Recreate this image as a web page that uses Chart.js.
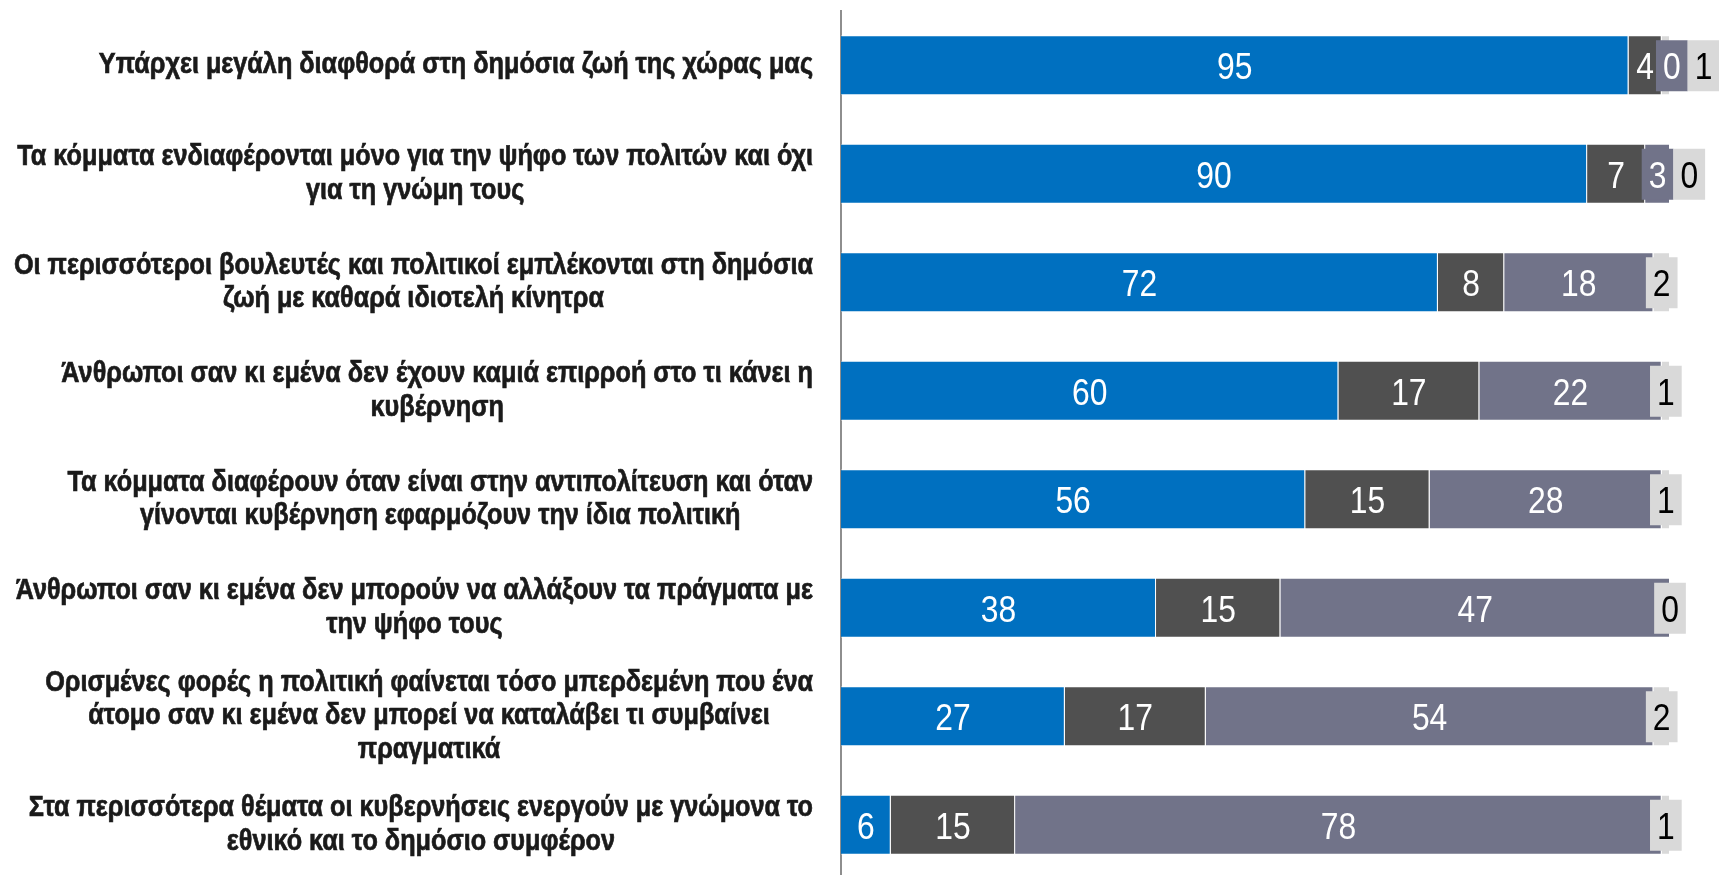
<!DOCTYPE html>
<html>
<head>
<meta charset="utf-8">
<script src="https://cdn.jsdelivr.net/npm/chart.js@4.4.1/dist/chart.umd.min.js"></script>
<style>
  html, body { margin: 0; padding: 0; background: #fff; overflow: hidden; }
  #wrap { position: relative; width: 1719px; height: 879px; }
</style>
</head>
<body>
<div id="wrap"><canvas id="chart"></canvas></div>
<script>
const categories = [
  'Υπάρχει μεγάλη διαφθορά στη δημόσια ζωή της χώρας μας',
  ['Τα κόμματα ενδιαφέρονται μόνο για την ψήφο των πολιτών και όχι', 'για τη γνώμη τους'],
  ['Οι περισσότεροι βουλευτές και πολιτικοί εμπλέκονται στη δημόσια', 'ζωή με καθαρά ιδιοτελή κίνητρα'],
  ['Άνθρωποι σαν κι εμένα δεν έχουν καμιά επιρροή στο τι κάνει η', 'κυβέρνηση'],
  ['Τα κόμματα διαφέρουν όταν είναι στην αντιπολίτευση και όταν', 'γίνονται κυβέρνηση εφαρμόζουν την ίδια πολιτική'],
  ['Άνθρωποι σαν κι εμένα δεν μπορούν να αλλάξουν τα πράγματα με', 'την ψήφο τους'],
  ['Ορισμένες φορές η πολιτική φαίνεται τόσο μπερδεμένη που ένα', 'άτομο σαν κι εμένα δεν μπορεί να καταλάβει τι συμβαίνει', 'πραγματικά'],
  ['Στα περισσότερα θέματα οι κυβερνήσεις ενεργούν με γνώμονα το', 'εθνικό και το δημόσιο συμφέρον'],
];

const agree = [95, 90, 72, 60, 56, 38, 27, 6];
const neither = [4, 7, 8, 17, 15, 15, 17, 15];
const disagree = [0, 3, 18, 22, 28, 47, 54, 78];
const noAnswer = [1, 0, 2, 1, 1, 0, 2, 1];

const seriesColors = ['#0070c0', '#505050', '#717389', '#d9d9d9'];

// Arial-metric font squeezed horizontally to get a narrow face
const LABEL_SQUEEZE = 0.87;
const VALUE_SQUEEZE = 0.86;
const LABEL_RIGHT = 813;
const LINE_H = 33.5;

function narrowText(ctx, text, x, y, squeeze, stroke) {
  ctx.save();
  ctx.translate(x, y);
  ctx.scale(squeeze, 1);
  ctx.textAlign = 'center';
  if (stroke) ctx.strokeText(text, 0, 0);
  ctx.fillText(text, 0, 0);
  ctx.restore();
}

const categoryLabels = {
  id: 'categoryLabels',
  afterDraw(chart) {
    const { ctx } = chart;
    const yScale = chart.scales.y;
    ctx.save();
    ctx.font = 'bold 29px "Liberation Sans", Arial, sans-serif';
    ctx.fillStyle = '#1a1a1a';
    ctx.strokeStyle = '#1a1a1a';
    ctx.lineWidth = 0.7;
    ctx.textBaseline = 'middle';
    categories.forEach((lab, i) => {
      const lines = Array.isArray(lab) ? lab : [lab];
      const w = Math.max(...lines.map((l) => ctx.measureText(l).width)) * LABEL_SQUEEZE;
      const cx = LABEL_RIGHT - w / 2;
      const cy = yScale.getPixelForValue(i);
      lines.forEach((line, k) => {
        narrowText(ctx, line, cx, cy + (k - (lines.length - 1) / 2) * LINE_H, LABEL_SQUEEZE, true);
      });
    });
    ctx.restore();
  },
};

// numbers inside the segments; the small ones get a boxed label pushed to the right
const valueLabels = {
  id: 'valueLabels',
  afterDatasetsDraw(chart) {
    const { ctx } = chart;
    ctx.save();
    ctx.font = '37px "Liberation Sans", Arial, sans-serif';
    ctx.textBaseline = 'middle';
    categories.forEach((_, i) => {
      let prevRight = -Infinity;
      chart.data.datasets.forEach((ds, d) => {
        const bar = chart.getDatasetMeta(d).data[i];
        const v = ds.data[i];
        const txt = String(v);
        const tw = ctx.measureText(txt).width * VALUE_SQUEEZE;
        const segCenter = (bar.base + bar.x) / 2;
        const boxed = d === 3 || (d === 2 && v < 5);
        if (!boxed) {
          ctx.fillStyle = '#fff';
          narrowText(ctx, txt, segCenter, bar.y + 4, VALUE_SQUEEZE);
          prevRight = segCenter + tw / 2 + 2;
        } else {
          const bw = tw + 14;
          const cx = Math.max(segCenter, prevRight + bw / 2);
          ctx.fillStyle = seriesColors[d];
          ctx.fillRect(cx - bw / 2, bar.y - 25, bw, 51);
          ctx.fillStyle = d === 3 ? '#000' : '#fff';
          narrowText(ctx, txt, cx, bar.y + 4, VALUE_SQUEEZE);
          prevRight = cx + bw / 2;
        }
      });
    });
    ctx.restore();
  },
};

const makeSet = (label, data, i) => ({
  label,
  data,
  backgroundColor: seriesColors[i],
  borderColor: 'rgba(255,255,255,0.5)',
  borderWidth: 1,
  barPercentage: 0.553,
  categoryPercentage: 1,
});

new Chart(document.getElementById('chart'), {
  type: 'bar',
  data: {
    labels: categories,
    datasets: [
      makeSet('agree', agree, 0),
      makeSet('neither', neither, 1),
      makeSet('disagree', disagree, 2),
      makeSet('no answer', noAnswer, 3),
    ],
  },
  options: {
    indexAxis: 'y',
    responsive: true,
    maintainAspectRatio: false,
    animation: false,
    layout: { padding: { top: 11, right: 49, bottom: 0, left: 0 } },
    plugins: {
      legend: { display: false },
      tooltip: { enabled: false },
    },
    scales: {
      x: { stacked: true, min: 0, max: 100, display: false },
      y: {
        stacked: true,
        grid: { display: false },
        border: { display: true, color: '#8e8e8e', width: 2 },
        ticks: { display: false },
        afterFit(scale) { scale.width = 841; },
      },
    },
  },
  plugins: [categoryLabels, valueLabels],
});
</script>
</body>
</html>
